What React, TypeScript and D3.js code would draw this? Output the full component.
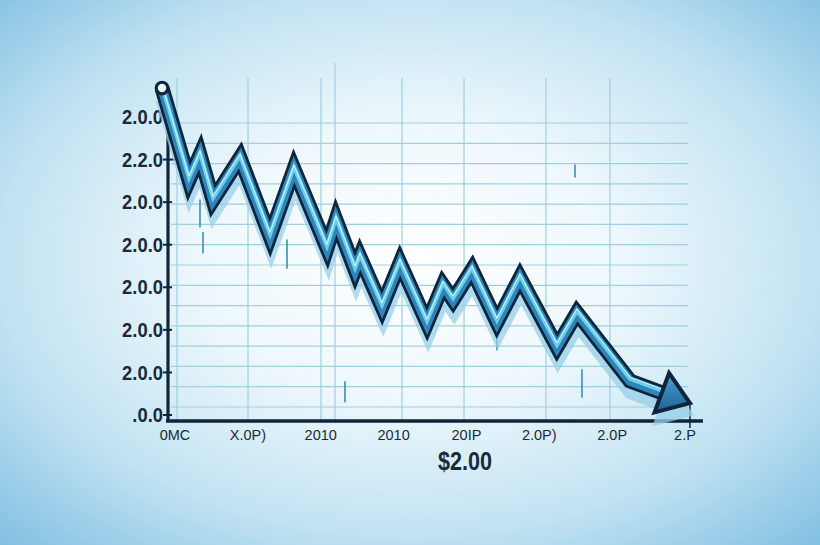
import React from "react";
import * as d3 from "d3";

// ---- data ----
const yTickLabels = ["2.0.0", "2.2.0", "2.0.0", "2.0.0", "2.0.0", "2.0.0", "2.0.0", ".0.0"]; // top -> bottom
const xTickLabels = ["0MC", "X.0P)", "2010", "2010", "20IP", "2.0P)", "2.0P", "2.P"];
const priceLabel = "$2.00";

// trend line vertices (x in tick-index units, y in label-index units)
const lineX = [-0.178, 0.192, 0.343, 0.522, 0.892, 1.304, 1.633, 2.086, 2.21, 2.471, 2.539, 2.841, 3.088, 3.459, 3.678, 3.816, 4.076, 4.419, 4.735, 5.243, 5.517, 6.245, 7.068];
const lineY = [7.68, 5.52, 6.11, 5.05, 6.04, 4.2, 5.78, 3.92, 4.58, 3.41, 3.71, 2.54, 3.57, 2.16, 3.05, 2.7, 3.41, 2.18, 3.22, 1.6, 2.4, 0.8, 0.28];

// vertical grid lines (tick-index units); the 4th one is taller
const gridX = [0.027, 1.002, 2.004, 2.196, 3.116, 3.967, 5.092, 5.97];
const tallGridIndex = 3;
const gridRowCount = 15;

// small stray dashes (x, y0, y1)
const dashX = [0.343, 0.384, 1.537, 2.333, 4.419, 5.49, 5.586];
const dashY0 = [5.05, 4.28, 4.11, 0.78, 1.93, 5.87, 1.06];
const dashY1 = [4.42, 3.81, 3.45, 0.31, 1.53, 5.59, 0.42];

const W = 820;
const H = 545;

export default function App() {
  const x = d3.scaleLinear().domain([0, 7]).range([175, 685]);
  const y = d3.scaleLinear().domain([0, 7]).range([415, 117]);
  const gridY = d3.scaleLinear().domain([0, gridRowCount - 1]).range([407, 123]);

  const axisX = 168;
  const axisY = 421;

  const pts: [number, number][] = lineX.map((v, i) => [x(v), y(lineY[i])]);
  const n = pts.length;
  const tip = pts[n - 1];
  const prev = pts[n - 2];
  const dx = tip[0] - prev[0];
  const dy = tip[1] - prev[1];
  const len = Math.hypot(dx, dy);
  const ux = dx / len, uy = dy / len;
  const nx = -uy, ny = ux;
  const headLen = 30, headHalf = 21;
  const base: [number, number] = [tip[0] - headLen * ux, tip[1] - headLen * uy];
  const shaft = [...pts.slice(0, n - 1), base];
  const head: [number, number][] = [
    tip,
    [base[0] + headHalf * nx, base[1] + headHalf * ny],
    [base[0] - headHalf * nx, base[1] - headHalf * ny],
  ];
  const lineGen = d3.line<[number, number]>().curve(d3.curveLinear);
  const shaftD = lineGen(shaft) || "";
  const headD = (lineGen(head) || "") + "Z";

  const dark = "#0f2539";

  return (
    <svg
      width={W}
      height={H}
      viewBox={`0 0 ${W} ${H}`}
      style={{ position: "absolute", left: 0, top: 0, display: "block" }}
    >
      <defs>
        <radialGradient id="bg" cx="50%" cy="48%" r="72%">
          <stop offset="0%" stopColor="#ffffff" />
          <stop offset="35%" stopColor="#eef8fc" />
          <stop offset="70%" stopColor="#c0e2f2" />
          <stop offset="100%" stopColor="#82c0e2" />
        </radialGradient>
        <linearGradient id="headFill" x1="0" y1="0" x2="0" y2="1">
          <stop offset="0%" stopColor="#4aa3d2" />
          <stop offset="100%" stopColor="#1f6098" />
        </linearGradient>
        <linearGradient id="lineFadeL" x1="0" y1="0" x2="1" y2="0">
          <stop offset="0%" stopColor="#1a2b3c" stopOpacity="0" />
          <stop offset="100%" stopColor="#1a2b3c" stopOpacity="0.8" />
        </linearGradient>
        <linearGradient id="lineFadeR" x1="0" y1="0" x2="1" y2="0">
          <stop offset="0%" stopColor="#1a2b3c" stopOpacity="0.1" />
          <stop offset="40%" stopColor="#1a2b3c" stopOpacity="0.8" />
          <stop offset="100%" stopColor="#1a2b3c" stopOpacity="0" />
        </linearGradient>
      </defs>

      <rect x={0} y={0} width={W} height={H} fill="url(#bg)" />

      {/* grid */}
      <g stroke="#9fcfe1" strokeWidth={1.2}>
        {d3.range(gridRowCount).map((r) => (
          <line key={"h" + r} x1={axisX + 3} x2={688} y1={gridY(r)} y2={gridY(r)} />
        ))}
        {gridX.map((g, i) => (
          <line key={"v" + i} x1={x(g)} x2={x(g)} y1={i === tallGridIndex ? 63 : 78} y2={axisY} />
        ))}
      </g>

      {/* stray dashes */}
      <g stroke="#3a8fb2" strokeWidth={1.6} strokeLinecap="round">
        {dashX.map((d, i) => (
          <line key={"d" + i} x1={x(d)} x2={x(d)} y1={y(dashY0[i])} y2={y(dashY1[i])} />
        ))}
      </g>

      {/* axes */}
      <line x1={axisX} x2={axisX} y1={125} y2={axisY + 1} stroke={dark} strokeWidth={3.2} />
      <line x1={axisX - 2} x2={703} y1={axisY} y2={axisY} stroke={dark} strokeWidth={3.5} />
      <line x1={tip[0]} x2={tip[0]} y1={tip[1]} y2={axisY + 7} stroke={dark} strokeWidth={1.5} />
      {yTickLabels.map((lab, i) => {
        const yy = y(yTickLabels.length - 1 - i);
        return (
          <g key={"yt" + i}>
            <line x1={axisX - 5} x2={i === 1 ? axisX + 9 : axisX + 4} y1={yy} y2={yy} stroke={dark} strokeWidth={2} />
            <text
              transform={`translate(163,${yy}) scale(0.92,1)`}
              x={0}
              y={0}
              dy="0.36em"
              textAnchor="end"
              fontFamily="'Liberation Sans', Arial, sans-serif"
              fontWeight="bold"
              fontSize={20}
              fill="#1a2a3b"
            >
              {lab}
            </text>
          </g>
        );
      })}
      {xTickLabels.map((lab, i) => (
        <text
          key={"xt" + i}
          x={x(i)}
          y={440}
          textAnchor="middle"
          fontFamily="'Liberation Sans', Arial, sans-serif"
          fontSize={14.5}
          fill="#1c2b3c"
        >
          {lab}
        </text>
      ))}

      {/* price label */}
      <line x1={328} x2={360} y1={453} y2={453} stroke="url(#lineFadeL)" strokeWidth={1.6} />
      <line x1={532} x2={714} y1={453} y2={453} stroke="url(#lineFadeR)" strokeWidth={1.6} />
      <text
        x={465}
        y={470}
        textAnchor="middle"
        fontFamily="'Liberation Sans', Arial, sans-serif"
        fontWeight="bold"
        fontSize={25}
        textLength={54}
        lengthAdjust="spacingAndGlyphs"
        fill="#1a2a3b"
      >
        {priceLabel}
      </text>

      {/* trend ribbon: shadow */}
      <g transform="translate(1,11)" opacity={0.75}>
        <path d={shaftD} fill="none" stroke="#98cfe9" strokeWidth={15} strokeLinejoin="miter" strokeMiterlimit={4} />
        <path d={headD} fill="#98cfe9" stroke="#98cfe9" strokeWidth={4} strokeLinejoin="miter" />
      </g>
      {/* outline */}
      <path d={shaftD} fill="none" stroke={dark} strokeWidth={15} strokeLinejoin="miter" strokeMiterlimit={4} />
      {/* body */}
      <path d={shaftD} fill="none" stroke="#2e84bb" strokeWidth={9.5} strokeLinejoin="miter" strokeMiterlimit={4} />
      <g transform="translate(0,-2)">
        <path d={shaftD} fill="none" stroke="#6dd0e6" strokeWidth={4} strokeLinejoin="miter" strokeMiterlimit={4} />
      </g>
      <g transform="translate(0,-3.8)" opacity={0.85}>
        <path d={shaftD} fill="none" stroke="#e9fbff" strokeWidth={1} strokeLinejoin="miter" strokeMiterlimit={4} />
      </g>
      {/* arrow head */}
      <path d={headD} fill="url(#headFill)" stroke={dark} strokeWidth={4} strokeLinejoin="miter" />
      {/* start marker */}
      <circle cx={pts[0][0]} cy={pts[0][1]} r={5.8} fill="#e8f8fd" stroke={dark} strokeWidth={3.2} />
    </svg>
  );
}
